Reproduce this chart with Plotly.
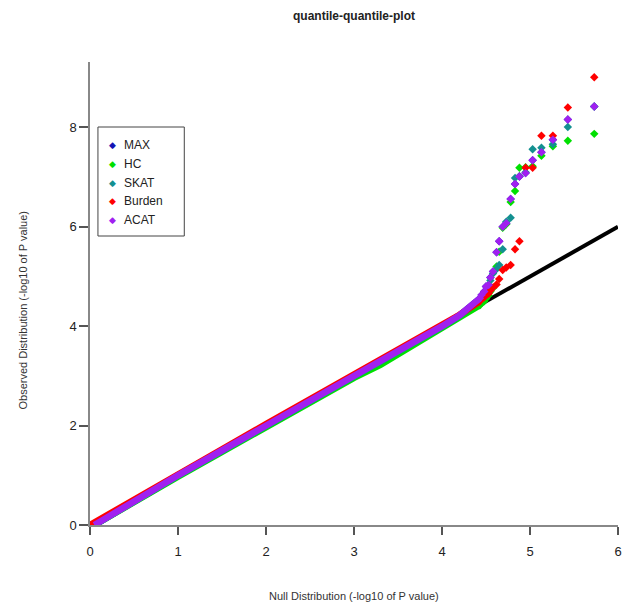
import plotly.graph_objects as go

# ---------------- data ----------------
SERIES = ["MAX", "HC", "SKAT", "Burden", "ACAT"]
COLORS = ["#1414b4", "#00e000", "#139090", "#ff0000", "#a020f0"]

# bulk of each QQ cloud (dense band) : expected vs observed
BAND_X_MAX = [0.05, 0.5, 1.0, 1.5, 2.0, 2.5, 3.0, 3.3, 3.5, 3.75, 4.0, 4.2, 4.43]
BAND_Y_MAX = [0.0, 0.49, 1.0, 1.5, 2.0, 2.5, 3.0, 3.29, 3.48, 3.74, 4.0, 4.22, 4.56]
BAND_X_HC = [0.05, 0.5, 1.0, 1.5, 2.0, 2.5, 3.0, 3.3, 3.6, 4.0, 4.3, 4.43]
BAND_Y_HC = [0.0, 0.47, 0.97, 1.47, 1.97, 2.47, 2.96, 3.22, 3.54, 3.96, 4.28, 4.42]
BAND_X_SKAT = [0.05, 0.5, 1.0, 1.5, 2.0, 2.5, 3.0, 3.3, 3.5, 3.75, 4.0, 4.2, 4.43]
BAND_Y_SKAT = [0.0, 0.48, 0.99, 1.49, 1.99, 2.49, 2.99, 3.27, 3.47, 3.73, 3.99, 4.21, 4.52]
BAND_X_BURDEN = [0.0, 0.5, 1.0, 1.5, 2.0, 2.5, 3.0, 3.5, 3.75, 4.0, 4.2, 4.43]
BAND_Y_BURDEN = [0.0, 0.52, 1.025, 1.525, 2.03, 2.53, 3.04, 3.53, 3.77, 4.02, 4.23, 4.50]
BAND_X_ACAT = [0.05, 0.5, 1.0, 1.5, 2.0, 2.5, 3.0, 3.3, 3.5, 3.75, 4.0, 4.2, 4.43]
BAND_Y_ACAT = [0.0, 0.49, 1.0, 1.5, 2.0, 2.5, 3.0, 3.29, 3.48, 3.74, 4.0, 4.22, 4.56]

# top-ranked points (tail), shared expected positions
TAIL_X = [5.73, 5.43, 5.26, 5.13, 5.03, 4.95, 4.88, 4.83, 4.78, 4.73,
          4.69, 4.65, 4.62, 4.58, 4.55, 4.53, 4.50, 4.48, 4.45, 4.43]
TAIL_Y_MAX = [8.42, 8.16, 7.75, 7.50, 7.34, 7.08, 7.01, 6.86, 6.56, 6.07,
              6.00, 5.71, 5.49, 5.10, 4.98, 4.83, 4.80, 4.70, 4.63, 4.56]
TAIL_Y_HC = [7.87, 7.73, 7.62, 7.43, 7.22, 7.20, 7.19, 6.72, 6.50, 6.05,
             5.98, 5.50, 5.20, 4.77, 4.70, 4.62, 4.55, 4.50, 4.46, 4.42]
TAIL_Y_SKAT = [8.42, 8.01, 7.66, 7.59, 7.56, 7.10, 7.02, 6.98, 6.18, 6.10,
               5.55, 5.23, 5.15, 5.06, 4.92, 4.80, 4.72, 4.65, 4.58, 4.52]
TAIL_Y_BURDEN = [9.01, 8.40, 7.83, 7.83, 7.19, 7.19, 5.71, 5.55, 5.23, 5.18,
                 5.13, 4.95, 4.84, 4.78, 4.72, 4.66, 4.62, 4.58, 4.55, 4.50]
TAIL_Y_ACAT = [8.42, 8.16, 7.75, 7.50, 7.34, 7.08, 7.01, 6.86, 6.56, 6.07,
               6.00, 5.71, 5.49, 5.10, 4.98, 4.83, 4.80, 4.70, 4.63, 4.56]

REF_LINE = [0, 6]  # y = x reference
X_TICKS = [0, 1, 2, 3, 4, 5, 6]
Y_TICKS = [0, 2, 4, 6, 8]

TITLE = "quantile-quantile-plot"
X_TITLE = "Null Distribution (-log10 of P value)"
Y_TITLE = "Observed Distribution (-log10 of P value)"

# ---------------- figure ----------------
W, H = 629, 606
ML, MR, MT, MB = 90, 7, 62, 81
PW, PH = W - ML - MR, H - MT - MB
FONT = "Liberation Sans, Arial, sans-serif"

bands = {
    "MAX": (BAND_X_MAX, BAND_Y_MAX),
    "HC": (BAND_X_HC, BAND_Y_HC),
    "SKAT": (BAND_X_SKAT, BAND_Y_SKAT),
    "Burden": (BAND_X_BURDEN, BAND_Y_BURDEN),
    "ACAT": (BAND_X_ACAT, BAND_Y_ACAT),
}
tails = {
    "MAX": TAIL_Y_MAX, "HC": TAIL_Y_HC, "SKAT": TAIL_Y_SKAT,
    "Burden": TAIL_Y_BURDEN, "ACAT": TAIL_Y_ACAT,
}

fig = go.Figure()
fig.add_trace(go.Scatter(x=REF_LINE, y=REF_LINE, mode="lines",
                         line=dict(color="black", width=4), showlegend=False,
                         hoverinfo="skip"))

for name, col in zip(SERIES, COLORS):
    bx, by = bands[name]
    fig.add_trace(go.Scatter(x=bx, y=by, mode="lines", name=name,
                             line=dict(color=col, width=6.5), showlegend=False))
    fig.add_trace(go.Scatter(x=TAIL_X, y=tails[name], mode="markers", name=name,
                             marker=dict(color=col, size=6.5, symbol="diamond"),
                             showlegend=False))

# manual R-style legend
LEG_L, LEG_T, LEG_R, LEG_B = 98, 127, 185, 236
def px_x(p):
    return (p - ML) / PW
def px_y(p):
    return (H - MB - p) / PH

shapes = [dict(type="rect", xref="paper", yref="paper",
               x0=px_x(LEG_L), x1=px_x(LEG_R), y0=px_y(LEG_B), y1=px_y(LEG_T),
               line=dict(color="#444", width=1), fillcolor="white", layer="above")]
annotations = []
for i, (name, col) in enumerate(zip(SERIES, COLORS)):
    yc = 145 + i * 18.8
    annotations.append(dict(xref="paper", yref="paper", x=px_x(112.5), y=px_y(yc),
                            text="◆", showarrow=False, xanchor="center", yanchor="middle",
                            font=dict(family="DejaVu Sans", size=9, color=col)))
    annotations.append(dict(xref="paper", yref="paper", x=px_x(122), y=px_y(yc),
                            text=name, showarrow=False, xanchor="left", yanchor="middle",
                            font=dict(family=FONT, size=12, color="#222")))

annotations.append(dict(xref="paper", yref="paper", x=0.5, y=px_y(596),
                        text=X_TITLE, showarrow=False, xanchor="center", yanchor="middle",
                        font=dict(family=FONT, size=11, color="#333")))
annotations.append(dict(xref="paper", yref="paper", x=px_x(22), y=px_y(310),
                        text=Y_TITLE, showarrow=False, xanchor="center", yanchor="middle",
                        textangle=-90, font=dict(family=FONT, size=11, color="#333")))
annotations.append(dict(xref="paper", yref="paper", x=0.5, y=px_y(16),
                        text="<b>" + TITLE + "</b>", showarrow=False,
                        xanchor="center", yanchor="middle",
                        font=dict(family=FONT, size=12, color="#222")))

axis_common = dict(showgrid=False, zeroline=False, showline=True, linecolor="#888",
                   linewidth=1.5, ticks="outside", tickcolor="#555", tickwidth=1.5,
                   tickfont=dict(family=FONT, size=13, color="#222"))

fig.update_layout(
    width=W, height=H,
    margin=dict(l=ML, r=MR, t=MT, b=MB),
    paper_bgcolor="white", plot_bgcolor="white",
    showlegend=False,
    xaxis=dict(range=[0, 6], tickvals=X_TICKS, ticklen=8, ticklabelstandoff=6,
               **axis_common),
    yaxis=dict(range=[0, PH / 49.7], tickvals=Y_TICKS, ticklen=9, **axis_common),
    shapes=shapes,
    annotations=annotations,
)

fig.write_html("out.html",
               config={"displayModeBar": False},
               post_script="document.body.style.margin='0px';"
                           "document.body.style.overflow='hidden';")
